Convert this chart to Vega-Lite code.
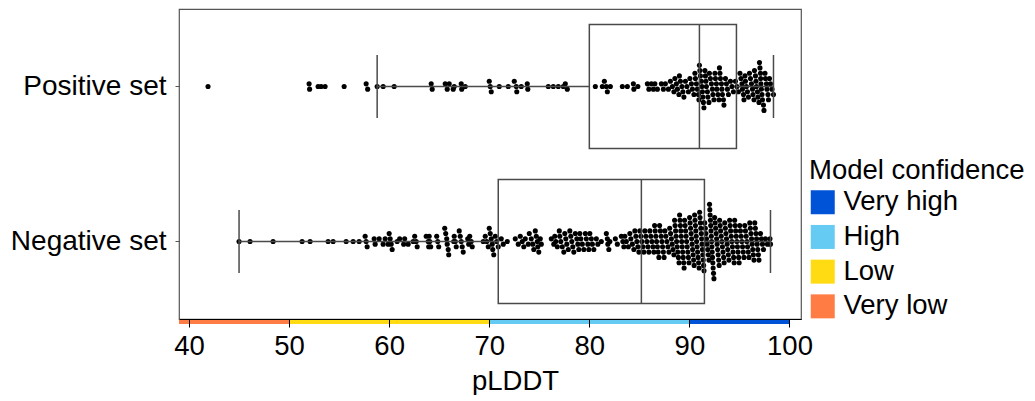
{
  "$schema": "https://vega.github.io/schema/vega-lite/v6.json",
  "padding": {"left": 9, "top": 8, "right": 0, "bottom": 0},
  "spacing": 0,
  "bounds": "flush",
  "config": {
    "font": "Liberation Sans",
    "view": {"stroke": "#555555", "strokeWidth": 1.2},
    "axis": {"labelFont": "Liberation Sans", "titleFont": "Liberation Sans", "labelFontSize": 27.5, "titleFontSize": 27.5, "labelColor": "#000000", "titleColor": "#000000", "titleFontWeight": "normal", "grid": false},
    "legend": {"labelFont": "Liberation Sans", "titleFont": "Liberation Sans", "labelFontSize": 27.5, "titleFontSize": 27.5, "titleFontWeight": "normal", "labelColor": "#000000", "titleColor": "#000000", "titleLimit": 0, "labelLimit": 0}
  },
  "datasets": {
    "box": [
      {"set": "Positive set", "lo": 58.8, "q1": 80.0, "med": 91.0, "q3": 94.7, "hi": 98.4},
      {"set": "Negative set", "lo": 45.0, "q1": 70.9, "med": 85.2, "q3": 91.5, "hi": 98.1}
    ],
    "bands": [
      {"c": "Very low", "a": 39.0, "b": 50},
      {"c": "Low", "a": 50, "b": 70},
      {"c": "High", "a": 70, "b": 90},
      {"c": "Very high", "a": 90, "b": 100}
    ],
    "dots": [
      {"set":"Positive set","v":41.9},{"set":"Positive set","v":52.0},{"set":"Positive set","v":52.05},{"set":"Positive set","v":52.9},{"set":"Positive set","v":53.2},{"set":"Positive set","v":53.6},{"set":"Positive set","v":55.5},{"set":"Positive set","v":57.7},{"set":"Positive set","v":57.85},{"set":"Positive set","v":58.8},{"set":"Positive set","v":59.4},{"set":"Positive set","v":60.5},{"set":"Positive set","v":64.2},{"set":"Positive set","v":64.3},{"set":"Positive set","v":65.6},{"set":"Positive set","v":65.8},{"set":"Positive set","v":66.0},{"set":"Positive set","v":66.4},{"set":"Positive set","v":66.5},{"set":"Positive set","v":67.2},{"set":"Positive set","v":67.25},{"set":"Positive set","v":67.6},{"set":"Positive set","v":70.0},{"set":"Positive set","v":70.1},{"set":"Positive set","v":70.2},{"set":"Positive set","v":71.0},{"set":"Positive set","v":71.9},{"set":"Positive set","v":72.5},{"set":"Positive set","v":72.7},{"set":"Positive set","v":72.75},{"set":"Positive set","v":73.2},{"set":"Positive set","v":73.8},{"set":"Positive set","v":73.85},{"set":"Positive set","v":75.9},{"set":"Positive set","v":76.4},{"set":"Positive set","v":76.9},{"set":"Positive set","v":77.4},{"set":"Positive set","v":77.6},{"set":"Positive set","v":77.8},
      {"set":"Positive set","v":80.6},{"set":"Positive set","v":81.3},{"set":"Positive set","v":81.5},{"set":"Positive set","v":81.7},{"set":"Positive set","v":81.8},{"set":"Positive set","v":82.1},{"set":"Positive set","v":83.3},{"set":"Positive set","v":83.8},{"set":"Positive set","v":84.4},{"set":"Positive set","v":84.45},{"set":"Positive set","v":84.85},{"set":"Positive set","v":85.8},{"set":"Positive set","v":85.95},{"set":"Positive set","v":86.2},{"set":"Positive set","v":86.4},{"set":"Positive set","v":86.55},{"set":"Positive set","v":86.8},{"set":"Positive set","v":87.2},{"set":"Positive set","v":87.4},{"set":"Positive set","v":87.6},{"set":"Positive set","v":87.9},{"set":"Positive set","v":88.1},{"set":"Positive set","v":88.3},{"set":"Positive set","v":88.45},{"set":"Positive set","v":88.55},{"set":"Positive set","v":88.7},{"set":"Positive set","v":88.8},{"set":"Positive set","v":88.95},{"set":"Positive set","v":89.0},{"set":"Positive set","v":89.1},{"set":"Positive set","v":89.25},{"set":"Positive set","v":89.35},{"set":"Positive set","v":89.45},{"set":"Positive set","v":89.6},{"set":"Positive set","v":89.75},{"set":"Positive set","v":89.9},{"set":"Positive set","v":90.05},{"set":"Positive set","v":90.2},{"set":"Positive set","v":90.3},{"set":"Positive set","v":90.45},{"set":"Positive set","v":90.55},{"set":"Positive set","v":90.6},{"set":"Positive set","v":90.7},{"set":"Positive set","v":90.8},{"set":"Positive set","v":90.9},{"set":"Positive set","v":90.95},{"set":"Positive set","v":91.0},{"set":"Positive set","v":91.05},{"set":"Positive set","v":91.1},{"set":"Positive set","v":91.2},{"set":"Positive set","v":91.25},{"set":"Positive set","v":91.3},{"set":"Positive set","v":91.35},{"set":"Positive set","v":91.4},{"set":"Positive set","v":91.45},{"set":"Positive set","v":91.55},{"set":"Positive set","v":91.6},{"set":"Positive set","v":91.65},{"set":"Positive set","v":91.7},{"set":"Positive set","v":91.8},{"set":"Positive set","v":91.85},{"set":"Positive set","v":91.95},{"set":"Positive set","v":92.0},{"set":"Positive set","v":92.1},{"set":"Positive set","v":92.2},{"set":"Positive set","v":92.3},{"set":"Positive set","v":92.35},{"set":"Positive set","v":92.45},{"set":"Positive set","v":92.55},{"set":"Positive set","v":92.6},{"set":"Positive set","v":92.7},{"set":"Positive set","v":92.75},{"set":"Positive set","v":92.85},{"set":"Positive set","v":92.95},{"set":"Positive set","v":93.0},{"set":"Positive set","v":93.05},{"set":"Positive set","v":93.1},{"set":"Positive set","v":93.2},{"set":"Positive set","v":93.25},{"set":"Positive set","v":93.3},{"set":"Positive set","v":93.4},{"set":"Positive set","v":93.45},{"set":"Positive set","v":93.6},{"set":"Positive set","v":93.7},{"set":"Positive set","v":93.8},{"set":"Positive set","v":93.9},{"set":"Positive set","v":94.1},{"set":"Positive set","v":94.25},{"set":"Positive set","v":94.4},{"set":"Positive set","v":94.6},{"set":"Positive set","v":94.75},{"set":"Positive set","v":94.9},{"set":"Positive set","v":95.05},{"set":"Positive set","v":95.15},{"set":"Positive set","v":95.25},{"set":"Positive set","v":95.3},{"set":"Positive set","v":95.4},{"set":"Positive set","v":95.45},{"set":"Positive set","v":95.55},{"set":"Positive set","v":95.6},{"set":"Positive set","v":95.7},{"set":"Positive set","v":95.8},{"set":"Positive set","v":95.9},{"set":"Positive set","v":96.0},{"set":"Positive set","v":96.1},{"set":"Positive set","v":96.2},{"set":"Positive set","v":96.3},{"set":"Positive set","v":96.35},{"set":"Positive set","v":96.45},{"set":"Positive set","v":96.5},{"set":"Positive set","v":96.6},{"set":"Positive set","v":96.65},{"set":"Positive set","v":96.7},{"set":"Positive set","v":96.8},{"set":"Positive set","v":96.85},{"set":"Positive set","v":96.95},{"set":"Positive set","v":97.0},{"set":"Positive set","v":97.05},{"set":"Positive set","v":97.1},{"set":"Positive set","v":97.12},{"set":"Positive set","v":97.15},{"set":"Positive set","v":97.2},{"set":"Positive set","v":97.25},{"set":"Positive set","v":97.3},{"set":"Positive set","v":97.4},{"set":"Positive set","v":97.45},{"set":"Positive set","v":97.55},{"set":"Positive set","v":97.6},{"set":"Positive set","v":97.7},{"set":"Positive set","v":97.75},{"set":"Positive set","v":97.85},{"set":"Positive set","v":97.9},{"set":"Positive set","v":98.0},{"set":"Positive set","v":98.1},{"set":"Positive set","v":98.25},{"set":"Positive set","v":98.4},
      {"set":"Negative set","v":45.0},{"set":"Negative set","v":46.1},{"set":"Negative set","v":48.4},{"set":"Negative set","v":51.3},{"set":"Negative set","v":52.1},{"set":"Negative set","v":53.9},{"set":"Negative set","v":54.4},{"set":"Negative set","v":55.7},{"set":"Negative set","v":56.4},{"set":"Negative set","v":57.0},{"set":"Negative set","v":57.6},{"set":"Negative set","v":57.7},{"set":"Negative set","v":57.8},{"set":"Negative set","v":58.5},{"set":"Negative set","v":58.6},{"set":"Negative set","v":59.0},{"set":"Negative set","v":59.4},{"set":"Negative set","v":59.6},{"set":"Negative set","v":59.9},{"set":"Negative set","v":60.0},{"set":"Negative set","v":60.1},{"set":"Negative set","v":60.2},{"set":"Negative set","v":60.3},{"set":"Negative set","v":60.8},{"set":"Negative set","v":61.05},{"set":"Negative set","v":61.45},{"set":"Negative set","v":61.55},{"set":"Negative set","v":61.9},{"set":"Negative set","v":62.4},{"set":"Negative set","v":62.55},{"set":"Negative set","v":62.7},{"set":"Negative set","v":62.8},{"set":"Negative set","v":63.7},{"set":"Negative set","v":63.9},{"set":"Negative set","v":63.95},{"set":"Negative set","v":64.0},{"set":"Negative set","v":64.05},{"set":"Negative set","v":64.15},{"set":"Negative set","v":64.75},{"set":"Negative set","v":64.85},{"set":"Negative set","v":64.95},{"set":"Negative set","v":65.55},{"set":"Negative set","v":65.65},{"set":"Negative set","v":65.75},{"set":"Negative set","v":65.8},{"set":"Negative set","v":65.9},{"set":"Negative set","v":65.95},{"set":"Negative set","v":66.45},{"set":"Negative set","v":66.5},{"set":"Negative set","v":66.6},{"set":"Negative set","v":66.7},{"set":"Negative set","v":67.0},{"set":"Negative set","v":67.1},{"set":"Negative set","v":67.2},{"set":"Negative set","v":67.3},{"set":"Negative set","v":67.4},{"set":"Negative set","v":67.85},{"set":"Negative set","v":67.95},{"set":"Negative set","v":68.05},{"set":"Negative set","v":68.2},{"set":"Negative set","v":68.3},
      {"set":"Negative set","v":69.4},{"set":"Negative set","v":69.6},{"set":"Negative set","v":69.75},{"set":"Negative set","v":69.9},{"set":"Negative set","v":70.0},{"set":"Negative set","v":70.1},{"set":"Negative set","v":70.2},{"set":"Negative set","v":70.3},{"set":"Negative set","v":70.35},{"set":"Negative set","v":70.45},{"set":"Negative set","v":70.6},{"set":"Negative set","v":70.75},{"set":"Negative set","v":70.9},{"set":"Negative set","v":71.2},{"set":"Negative set","v":71.4},{"set":"Negative set","v":71.8},
      {"set":"Negative set","v":72.6},{"set":"Negative set","v":72.9},{"set":"Negative set","v":73.1},{"set":"Negative set","v":73.3},{"set":"Negative set","v":73.45},{"set":"Negative set","v":73.6},{"set":"Negative set","v":73.9},{"set":"Negative set","v":74.0},{"set":"Negative set","v":74.2},{"set":"Negative set","v":74.35},{"set":"Negative set","v":74.45},{"set":"Negative set","v":74.6},{"set":"Negative set","v":74.7},{"set":"Negative set","v":74.8},{"set":"Negative set","v":74.85},{"set":"Negative set","v":74.95},{"set":"Negative set","v":75.1},{"set":"Negative set","v":75.2},
      {"set":"Negative set","v":76.2},{"set":"Negative set","v":76.45},{"set":"Negative set","v":76.55},{"set":"Negative set","v":76.65},{"set":"Negative set","v":76.8},{"set":"Negative set","v":77.0},{"set":"Negative set","v":77.05},{"set":"Negative set","v":77.15},{"set":"Negative set","v":77.3},{"set":"Negative set","v":77.45},{"set":"Negative set","v":77.55},{"set":"Negative set","v":77.65},{"set":"Negative set","v":77.75},{"set":"Negative set","v":77.9},{"set":"Negative set","v":78.05},{"set":"Negative set","v":78.15},{"set":"Negative set","v":78.25},{"set":"Negative set","v":78.35},{"set":"Negative set","v":78.45},{"set":"Negative set","v":78.6},{"set":"Negative set","v":78.75},{"set":"Negative set","v":78.85},{"set":"Negative set","v":78.95},{"set":"Negative set","v":79.05},{"set":"Negative set","v":79.15},{"set":"Negative set","v":79.3},{"set":"Negative set","v":79.45},{"set":"Negative set","v":79.6},{"set":"Negative set","v":79.7},{"set":"Negative set","v":79.85},{"set":"Negative set","v":79.95},{"set":"Negative set","v":80.05},{"set":"Negative set","v":80.2},{"set":"Negative set","v":80.3},{"set":"Negative set","v":80.45},{"set":"Negative set","v":80.7},{"set":"Negative set","v":80.85},{"set":"Negative set","v":81.2},{"set":"Negative set","v":81.7},{"set":"Negative set","v":81.8},{"set":"Negative set","v":81.85},{"set":"Negative set","v":81.95},{"set":"Negative set","v":82.05},
      {"set":"Negative set","v":82.6},{"set":"Negative set","v":82.8},{"set":"Negative set","v":83.2},{"set":"Negative set","v":83.35},{"set":"Negative set","v":83.45},{"set":"Negative set","v":83.55},{"set":"Negative set","v":83.7},{"set":"Negative set","v":83.9},{"set":"Negative set","v":84.05},{"set":"Negative set","v":84.15},{"set":"Negative set","v":84.3},{"set":"Negative set","v":84.45},{"set":"Negative set","v":84.55},{"set":"Negative set","v":84.65},{"set":"Negative set","v":84.75},{"set":"Negative set","v":84.85},{"set":"Negative set","v":84.95},{"set":"Negative set","v":85.05},{"set":"Negative set","v":85.15},{"set":"Negative set","v":85.25},{"set":"Negative set","v":85.35},{"set":"Negative set","v":85.45},{"set":"Negative set","v":85.55},{"set":"Negative set","v":85.65},{"set":"Negative set","v":85.75},{"set":"Negative set","v":85.85},{"set":"Negative set","v":85.95},
      {"set":"Negative set","v":86.05},{"set":"Negative set","v":86.15},{"set":"Negative set","v":86.25},{"set":"Negative set","v":86.35},{"set":"Negative set","v":86.45},
      {"set":"Negative set","v":86.52},{"set":"Negative set","v":86.58},{"set":"Negative set","v":86.65},{"set":"Negative set","v":86.72},{"set":"Negative set","v":86.8},{"set":"Negative set","v":86.88},{"set":"Negative set","v":86.95},
      {"set":"Negative set","v":87.02},{"set":"Negative set","v":87.1},{"set":"Negative set","v":87.18},{"set":"Negative set","v":87.25},{"set":"Negative set","v":87.32},{"set":"Negative set","v":87.4},{"set":"Negative set","v":87.47},
      {"set":"Negative set","v":87.55},{"set":"Negative set","v":87.65},{"set":"Negative set","v":87.75},{"set":"Negative set","v":87.85},{"set":"Negative set","v":87.95},
      {"set":"Negative set","v":88.03},{"set":"Negative set","v":88.12},{"set":"Negative set","v":88.2},{"set":"Negative set","v":88.28},{"set":"Negative set","v":88.36},{"set":"Negative set","v":88.45},
      {"set":"Negative set","v":88.52},{"set":"Negative set","v":88.57},{"set":"Negative set","v":88.62},{"set":"Negative set","v":88.67},{"set":"Negative set","v":88.72},{"set":"Negative set","v":88.78},{"set":"Negative set","v":88.84},{"set":"Negative set","v":88.9},{"set":"Negative set","v":88.96},
      {"set":"Negative set","v":89.02},{"set":"Negative set","v":89.06},{"set":"Negative set","v":89.1},{"set":"Negative set","v":89.14},{"set":"Negative set","v":89.18},{"set":"Negative set","v":89.23},{"set":"Negative set","v":89.28},{"set":"Negative set","v":89.33},{"set":"Negative set","v":89.38},{"set":"Negative set","v":89.43},{"set":"Negative set","v":89.47},
      {"set":"Negative set","v":89.52},{"set":"Negative set","v":89.57},{"set":"Negative set","v":89.62},{"set":"Negative set","v":89.67},{"set":"Negative set","v":89.72},{"set":"Negative set","v":89.78},{"set":"Negative set","v":89.84},{"set":"Negative set","v":89.9},{"set":"Negative set","v":89.96},
      {"set":"Negative set","v":90.02},{"set":"Negative set","v":90.07},{"set":"Negative set","v":90.12},{"set":"Negative set","v":90.17},{"set":"Negative set","v":90.22},{"set":"Negative set","v":90.27},{"set":"Negative set","v":90.32},{"set":"Negative set","v":90.37},{"set":"Negative set","v":90.42},{"set":"Negative set","v":90.47},
      {"set":"Negative set","v":90.52},{"set":"Negative set","v":90.56},{"set":"Negative set","v":90.6},{"set":"Negative set","v":90.64},{"set":"Negative set","v":90.68},{"set":"Negative set","v":90.72},{"set":"Negative set","v":90.77},{"set":"Negative set","v":90.82},{"set":"Negative set","v":90.87},{"set":"Negative set","v":90.92},{"set":"Negative set","v":90.97},
      {"set":"Negative set","v":91.02},{"set":"Negative set","v":91.06},{"set":"Negative set","v":91.1},{"set":"Negative set","v":91.14},{"set":"Negative set","v":91.18},{"set":"Negative set","v":91.22},{"set":"Negative set","v":91.26},{"set":"Negative set","v":91.3},{"set":"Negative set","v":91.34},{"set":"Negative set","v":91.38},{"set":"Negative set","v":91.42},{"set":"Negative set","v":91.46},
      {"set":"Negative set","v":91.53},{"set":"Negative set","v":91.59},{"set":"Negative set","v":91.65},{"set":"Negative set","v":91.71},{"set":"Negative set","v":91.77},{"set":"Negative set","v":91.83},{"set":"Negative set","v":91.89},{"set":"Negative set","v":91.95},
      {"set":"Negative set","v":92.01},{"set":"Negative set","v":92.04},{"set":"Negative set","v":92.07},{"set":"Negative set","v":92.1},{"set":"Negative set","v":92.13},{"set":"Negative set","v":92.16},{"set":"Negative set","v":92.19},{"set":"Negative set","v":92.22},{"set":"Negative set","v":92.25},{"set":"Negative set","v":92.28},{"set":"Negative set","v":92.31},{"set":"Negative set","v":92.34},{"set":"Negative set","v":92.37},{"set":"Negative set","v":92.41},{"set":"Negative set","v":92.45},
      {"set":"Negative set","v":92.52},{"set":"Negative set","v":92.57},{"set":"Negative set","v":92.62},{"set":"Negative set","v":92.67},{"set":"Negative set","v":92.72},{"set":"Negative set","v":92.77},{"set":"Negative set","v":92.82},{"set":"Negative set","v":92.87},{"set":"Negative set","v":92.92},{"set":"Negative set","v":92.97},
      {"set":"Negative set","v":93.02},{"set":"Negative set","v":93.07},{"set":"Negative set","v":93.12},{"set":"Negative set","v":93.18},{"set":"Negative set","v":93.24},{"set":"Negative set","v":93.3},{"set":"Negative set","v":93.36},{"set":"Negative set","v":93.42},{"set":"Negative set","v":93.47},
      {"set":"Negative set","v":93.53},{"set":"Negative set","v":93.59},{"set":"Negative set","v":93.65},{"set":"Negative set","v":93.71},{"set":"Negative set","v":93.77},{"set":"Negative set","v":93.83},{"set":"Negative set","v":93.89},{"set":"Negative set","v":93.95},
      {"set":"Negative set","v":94.02},{"set":"Negative set","v":94.07},{"set":"Negative set","v":94.12},{"set":"Negative set","v":94.18},{"set":"Negative set","v":94.24},{"set":"Negative set","v":94.3},{"set":"Negative set","v":94.36},{"set":"Negative set","v":94.42},{"set":"Negative set","v":94.47},
      {"set":"Negative set","v":94.52},{"set":"Negative set","v":94.57},{"set":"Negative set","v":94.62},{"set":"Negative set","v":94.68},{"set":"Negative set","v":94.74},{"set":"Negative set","v":94.8},{"set":"Negative set","v":94.86},{"set":"Negative set","v":94.92},{"set":"Negative set","v":94.97},
      {"set":"Negative set","v":95.03},{"set":"Negative set","v":95.1},{"set":"Negative set","v":95.17},{"set":"Negative set","v":95.24},{"set":"Negative set","v":95.31},{"set":"Negative set","v":95.38},{"set":"Negative set","v":95.45},
      {"set":"Negative set","v":95.53},{"set":"Negative set","v":95.6},{"set":"Negative set","v":95.67},{"set":"Negative set","v":95.74},{"set":"Negative set","v":95.81},{"set":"Negative set","v":95.88},{"set":"Negative set","v":95.95},
      {"set":"Negative set","v":96.03},{"set":"Negative set","v":96.09},{"set":"Negative set","v":96.15},{"set":"Negative set","v":96.21},{"set":"Negative set","v":96.27},{"set":"Negative set","v":96.33},{"set":"Negative set","v":96.39},{"set":"Negative set","v":96.45},
      {"set":"Negative set","v":96.53},{"set":"Negative set","v":96.59},{"set":"Negative set","v":96.65},{"set":"Negative set","v":96.71},{"set":"Negative set","v":96.77},{"set":"Negative set","v":96.83},{"set":"Negative set","v":96.89},{"set":"Negative set","v":96.95},
      {"set":"Negative set","v":97.1},{"set":"Negative set","v":97.2},{"set":"Negative set","v":97.3},{"set":"Negative set","v":97.4},
      {"set":"Negative set","v":97.6},{"set":"Negative set","v":97.8},{"set":"Negative set","v":98.05},{"set":"Negative set","v":98.1}
    ]
  },
  "vconcat": [
    {
      "width": 622,
      "height": 310,
      "layer": [
        {
          "data": {"name": "dots"},
          "transform": [
            {"bin": {"step": 0.5}, "field": "v", "as": "vb"},
            {"window": [{"op": "count", "as": "one"}], "frame": [0, 0]},
            {"stack": "one", "groupby": ["set", "vb"], "sort": [{"field": "v", "order": "ascending"}], "offset": "center", "as": ["s0", "s1"]}
          ],
          "mark": {"type": "circle", "size": 26, "color": "#000000", "opacity": 1},
          "encoding": {
            "x": {"field": "v", "type": "quantitative", "scale": {"domain": [39.0, 101.15], "nice": false, "zero": false}, "axis": null},
            "y": {"field": "set", "type": "nominal", "sort": ["Positive set", "Negative set"], "scale": {"paddingInner": 0, "paddingOuter": 0}, "axis": {"title": null, "domain": false, "tickSize": 4, "tickColor": "#555555", "labelPadding": 9, "labelFontSize": 28}},
            "yOffset": {"field": "s0", "type": "quantitative", "scale": {"domain": [-7.6, 21.6], "range": [0, 155], "nice": false, "zero": false}}
          }
        },
        {
          "data": {"name": "box"},
          "mark": {"type": "bar", "height": 124, "fill": "transparent", "stroke": "#4a4a4a", "strokeWidth": 1.5},
          "encoding": {
            "x": {"field": "q1", "type": "quantitative"},
            "x2": {"field": "q3"},
            "y": {"field": "set", "type": "nominal", "sort": ["Positive set", "Negative set"]}
          }
        },
        {
          "data": {"name": "box"},
          "mark": {"type": "rule", "color": "#4a4a4a", "strokeWidth": 1.5},
          "encoding": {
            "x": {"field": "lo", "type": "quantitative"},
            "x2": {"field": "q1"},
            "y": {"field": "set", "type": "nominal", "sort": ["Positive set", "Negative set"]}
          }
        },
        {
          "data": {"name": "box"},
          "mark": {"type": "rule", "color": "#4a4a4a", "strokeWidth": 1.5},
          "encoding": {
            "x": {"field": "q3", "type": "quantitative"},
            "x2": {"field": "hi"},
            "y": {"field": "set", "type": "nominal", "sort": ["Positive set", "Negative set"]}
          }
        },
        {
          "data": {"name": "box"},
          "mark": {"type": "tick", "color": "#4a4a4a", "thickness": 1.5, "size": 63, "orient": "vertical", "opacity": 1},
          "encoding": {
            "x": {"field": "lo", "type": "quantitative"},
            "y": {"field": "set", "type": "nominal", "sort": ["Positive set", "Negative set"]}
          }
        },
        {
          "data": {"name": "box"},
          "mark": {"type": "tick", "color": "#4a4a4a", "thickness": 1.5, "size": 63, "orient": "vertical", "opacity": 1},
          "encoding": {
            "x": {"field": "hi", "type": "quantitative"},
            "y": {"field": "set", "type": "nominal", "sort": ["Positive set", "Negative set"]}
          }
        },
        {
          "data": {"name": "box"},
          "mark": {"type": "tick", "color": "#4a4a4a", "thickness": 1.5, "size": 124, "orient": "vertical", "opacity": 1},
          "encoding": {
            "x": {"field": "med", "type": "quantitative"},
            "y": {"field": "set", "type": "nominal", "sort": ["Positive set", "Negative set"]}
          }
        }
      ]
    },
    {
      "width": 622,
      "height": 5,
      "view": {"stroke": null},
      "data": {"name": "bands"},
      "mark": {"type": "rect"},
      "encoding": {
        "x": {"field": "a", "type": "quantitative", "scale": {"domain": [39.0, 101.15], "nice": false, "zero": false},
              "axis": {"values": [40, 50, 60, 70, 80, 90, 100], "offset": -5, "tickSize": 8, "tickColor": "#000000", "domainColor": "#000000", "tickWidth": 1, "domainWidth": 1, "labelPadding": 5, "labelFlush": false, "title": "pLDDT", "titlePadding": 8, "titleX": 336, "zindex": 1}},
        "x2": {"field": "b"},
        "color": {"field": "c", "type": "nominal",
                  "scale": {"domain": ["Very high", "High", "Low", "Very low"], "range": ["#0053D6", "#65CBF3", "#FFDB13", "#FF7D45"]},
                  "legend": {"title": "Model confidence", "orient": "none", "legendX": 630, "legendY": 148, "symbolType": "square", "symbolSize": 576, "symbolStrokeWidth": 0, "symbolOpacity": 1, "labelOffset": 7, "rowPadding": 5.7, "titlePadding": 4, "padding": 0}}
      }
    }
  ]
}
